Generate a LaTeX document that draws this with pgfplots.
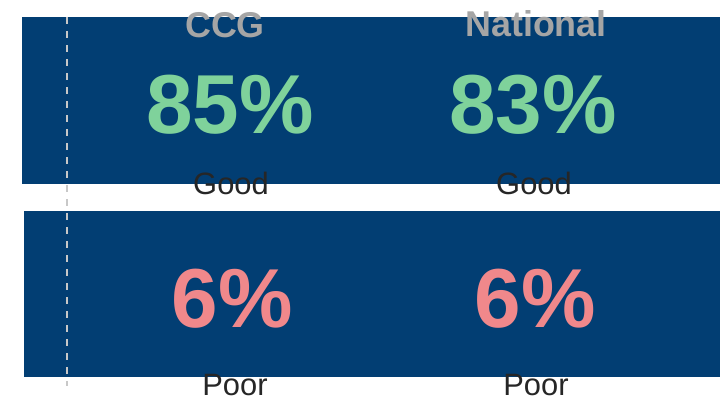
\documentclass[border=0pt]{standalone}
\usepackage{pgfplots}
\pgfplotsset{compat=1.18}
\usepackage{fontspec}
\setmainfont{Liberation Sans}
\definecolor{barblue}{HTML}{023E73}
\definecolor{goodgreen}{HTML}{7FD29B}
\definecolor{poorpink}{HTML}{F0888B}
\definecolor{headgray}{HTML}{A5A5A5}
\definecolor{labeltext}{HTML}{262626}
\definecolor{dashgray}{HTML}{C8C8C8}
\begin{document}
\begin{tikzpicture}
\begin{axis}[
    scale only axis,
    width=720bp, height=401bp,
    xmin=0, xmax=720, ymin=0, ymax=401,
    y dir=reverse,
    axis lines=none,
    ticks=none,
    clip=false,
]
% panels
\addplot[fill=barblue, draw=none] coordinates {(22,17)(720,17)(720,184)(22,184)} -- cycle;
\addplot[fill=barblue, draw=none] coordinates {(24,211)(720,211)(720,377)(24,377)} -- cycle;
% dashed divider
\addplot[dashgray, line width=1.6bp, dash pattern=on 7bp off 7bp] coordinates {(67,17)(67,386)};

% column heads
\node[anchor=base, text=headgray, font=\fontsize{36}{36}\selectfont\bfseries] at (axis cs:225,37) {CCG};
\node[anchor=base, text=headgray, font=\fontsize{36}{36}\selectfont\bfseries] at (axis cs:536,36) {National};

% good values
\addplot[draw=none, mark=none, nodes near coords, point meta=explicit symbolic,
  nodes near coords style={anchor=base, inner sep=0pt, text=goodgreen,
  font=\fontsize{84}{84}\selectfont\bfseries}]
  coordinates {(230,133)[85\%] (533,133)[83\%]};
% poor values
\addplot[draw=none, mark=none, nodes near coords, point meta=explicit symbolic,
  nodes near coords style={anchor=base, inner sep=0pt, text=poorpink,
  font=\fontsize{84}{84}\selectfont\bfseries}]
  coordinates {(232,327)[6\%] (535,327)[6\%]};

% category labels
\node[anchor=base, text=labeltext, font=\fontsize{31}{31}\selectfont] at (axis cs:231,194) {Good};
\node[anchor=base, text=labeltext, font=\fontsize{31}{31}\selectfont] at (axis cs:534,194) {Good};
\node[anchor=base, text=labeltext, font=\fontsize{31}{31}\selectfont] at (axis cs:235,395) {Poor};
\node[anchor=base, text=labeltext, font=\fontsize{31}{31}\selectfont] at (axis cs:536,395) {Poor};
\end{axis}
\pgfresetboundingbox
\path (current axis.south west) rectangle (current axis.north east);
\end{tikzpicture}
\end{document}
